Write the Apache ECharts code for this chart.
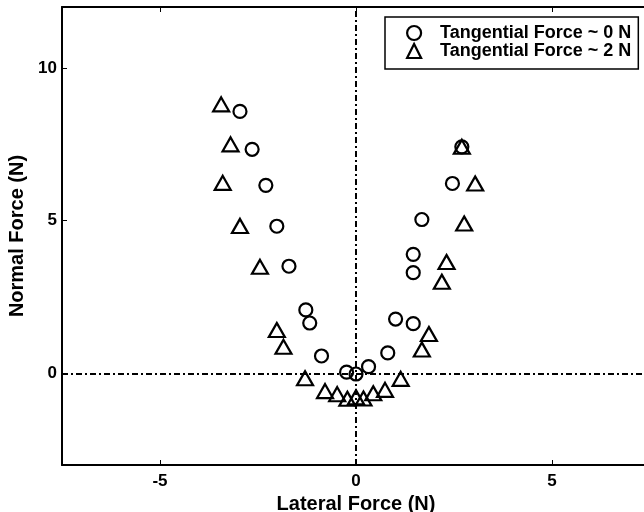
<!DOCTYPE html>
<html>
<head>
<meta charset="utf-8">
<script src="https://cdn.jsdelivr.net/npm/echarts@6/dist/echarts.min.js"></script>
<style>html,body{margin:0;padding:0;background:#fff}#c{width:644px;height:512px}</style>
</head>
<body>
<div id="c"></div>
<script>
var seriesNames = ['Tangential Force ~ 0 N', 'Tangential Force ~ 2 N'];
var circleX = [-2.96, -2.65, -2.30, -2.02, -1.71, -1.28, -1.18, -0.88, -0.24, 0.00, 0.32, 0.81, 1.01, 1.46, 1.46, 1.46, 1.68, 2.46, 2.70];
var circleY = [8.58, 7.34, 6.16, 4.82, 3.51, 2.08, 1.65, 0.57, 0.04, -0.02, 0.22, 0.67, 1.78, 1.63, 3.30, 3.90, 5.04, 6.22, 7.42];
var triX = [-3.44, -3.20, -3.40, -2.96, -2.45, -2.02, -1.85, -1.30, -0.79, -0.48, -0.22, 0.00, 0.19, 0.44, 0.74, 1.14, 1.68, 1.86, 2.19, 2.31, 2.76, 3.04, 2.70];
var triY = [8.81, 7.50, 6.24, 4.83, 3.49, 1.42, 0.87, -0.16, -0.58, -0.68, -0.83, -0.78, -0.82, -0.65, -0.54, -0.18, 0.78, 1.29, 3.00, 3.65, 4.91, 6.22, 7.42];
var xTicks = [-5, 0, 5];
var yTicks = [0, 5, 10];

function zip(a, b) { return a.map(function (v, i) { return [v, b[i]]; }); }

var FONT = 'Liberation Sans';
var chart = echarts.init(document.getElementById('c'), null, {renderer: 'canvas'});
var axisLine = {show: true, onZero: false, lineStyle: {color: '#000', width: 2}};
function ticks(vals) {
  return {show: true, inside: true, length: 5, lineStyle: {color: '#000', width: 1}, customValues: vals};
}
chart.setOption({
  animation: false,
  backgroundColor: '#fff',
  grid: {left: 62, top: 7, width: 588, height: 458, containLabel: false, outerBoundsMode: 'none'},
  xAxis: [
    {
      type: 'value', min: -7.5, max: 7.5,
      name: 'Lateral Force (N)', nameLocation: 'middle', nameGap: 26,
      nameTextStyle: {fontFamily: FONT, fontWeight: 'bold', fontSize: 20, color: '#000'},
      axisLabel: {margin: 8, fontFamily: FONT, fontWeight: 'bold', fontSize: 17, color: '#000', customValues: xTicks},
      axisTick: ticks(xTicks), axisLine: axisLine, splitLine: {show: false}
    },
    {
      type: 'value', min: -7.5, max: 7.5, position: 'top',
      axisLabel: {show: false},
      axisTick: ticks(xTicks), axisLine: axisLine, splitLine: {show: false}
    }
  ],
  yAxis: [
    {
      type: 'value', min: -3, max: 12,
      name: 'Normal Force (N)', nameLocation: 'middle', nameGap: 33,
      nameTextStyle: {fontFamily: FONT, fontWeight: 'bold', fontSize: 20, color: '#000'},
      axisLabel: {margin: 5, fontFamily: FONT, fontWeight: 'bold', fontSize: 17, color: '#000', customValues: yTicks},
      axisTick: ticks(yTicks), axisLine: axisLine, splitLine: {show: false}
    }
  ],
  legend: {
    show: true, orient: 'vertical', left: 385, top: 17,
    data: seriesNames,
    backgroundColor: '#fff', borderColor: '#000', borderWidth: 1.5,
    padding: [7, 7, 9, 21], itemGap: 0, itemWidth: 14, itemHeight: 14,
    itemStyle: {borderWidth: 2.2},
    textStyle: {fontFamily: FONT, fontWeight: 'bold', fontSize: 18, lineHeight: 16, color: '#000', padding: [0, 0, 0, 14]}
  },
  series: [
    {
      name: seriesNames[0], type: 'scatter', data: zip(circleX, circleY),
      symbol: 'circle', symbolSize: 13,
      itemStyle: {color: 'rgba(0,0,0,0)', borderColor: '#000', borderWidth: 2.2, opacity: 1},
      markLine: {
        silent: true, symbol: 'none', label: {show: false},
        lineStyle: {color: '#000', width: 2, type: [6, 3, 2, 3]},
        data: [{xAxis: 0}, {yAxis: 0}]
      },
      z: 3
    },
    {
      name: seriesNames[1], type: 'scatter', data: zip(triX, triY),
      symbol: 'triangle', symbolSize: [16, 14],
      itemStyle: {color: 'rgba(0,0,0,0)', borderColor: '#000', borderWidth: 2.2, opacity: 1},
      z: 3
    }
  ]
});
</script>
</body>
</html>
